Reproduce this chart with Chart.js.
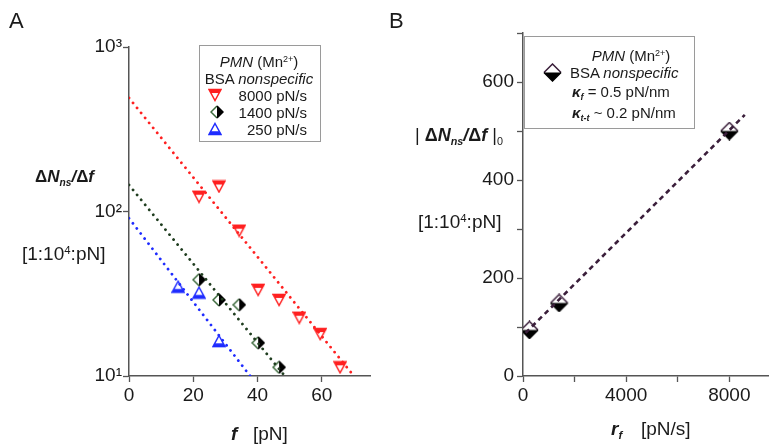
<!DOCTYPE html>
<html>
<head>
<meta charset="utf-8">
<script src="https://cdn.jsdelivr.net/npm/chart.js@4.4.1/dist/chart.umd.min.js"></script>
<style>
body { margin: 0; background: #fff; }
#wrap { position: relative; width: 776px; height: 446px; overflow: hidden; font-family: "Liberation Sans", Arial, sans-serif; color: #1a1a1a; }
#wrap canvas { position: absolute; top: 0; }
.t { position: absolute; white-space: nowrap; line-height: 1; }
.t sup, .t sub { font-size: 0.6em; line-height: 0; position: relative; vertical-align: baseline; }
.t sup { top: -0.55em; }
.t sub { top: 0.35em; }
.box { position: absolute; border: 1px solid #9a9a9a; }
</style>
</head>
<body>
<div id="wrap">
  <canvas id="chartA" width="388" height="446" style="left:0"></canvas>
  <canvas id="chartB" width="388" height="446" style="left:388px"></canvas>
</div>
<script>
// panel A: dN/df against force, one series per loading rate
const f8000 = [21.8, 28.0, 34.3, 40.2, 46.7, 53.0, 59.5, 65.7];
const n8000 = [123, 142, 76.5, 33.4, 29.0, 22.6, 18.0, 11.3];
const f1400 = [21.8, 28.0, 34.3, 40.2, 46.7];
const n1400 = [38.5, 29.0, 27.1, 15.9, 11.3];
const f250 = [15.3, 21.8, 28.0];
const n250 = [34.9, 32.1, 16.3];
// fitted lines (end points)
const fitF8000 = [0, 70], fitN8000 = [490, 10];
const fitF1400 = [0, 48.5], fitN1400 = [145, 10];
const fitF250 = [0, 37.7], fitN250 = [91, 10];
const fTicks = [0, 20, 40, 60];
const nTicks = [10, 100, 1000];
const nTickLabels = ['10\u00b9', '10\u00b2', '10\u00b3'];

// panel B: |dN/df|0 against loading rate
const rates = [250, 1400, 8000];
const slopes0 = [94, 149, 500];
const fitRate = [100, 8600], fitSlope = [88, 533];
const rTicks = [0, 2000, 4000, 6000, 8000];
const rTickLabels = ['0', '', '4000', '', '8000'];
const sTicks = [0, 100, 200, 300, 400, 500, 600, 700];
const sTickLabels = ['0', '', '200', '', '400', '', '600', ''];

const RED = '#ff2020', GREEN = '#1f3d1f', BLUE = '#1f2cff', PURPLE = '#3a1e3a';

function marker(kind, size) {
  const c = document.createElement('canvas');
  c.width = c.height = size;
  const g = c.getContext('2d');
  const s = size, h = s / 2;
  let pts;
  if (kind === 'down') pts = [[1, 1.5], [s - 1, 1.5], [h, s - 1.5]];
  else if (kind === 'up') pts = [[h, 1.5], [s - 1, s - 1.5], [1, s - 1.5]];
  else pts = [[h, 1], [s - 1, h], [h, s - 1], [1, h]];
  const path = () => { g.beginPath(); pts.forEach((p, i) => i ? g.lineTo(p[0], p[1]) : g.moveTo(p[0], p[1])); g.closePath(); };
  g.save(); path(); g.fillStyle = '#fff'; g.fill(); g.clip();
  g.lineWidth = 1.6;
  if (kind === 'down') { g.fillStyle = RED; g.fillRect(0, 0, s, s * 0.36); }
  if (kind === 'up') { g.fillStyle = BLUE; g.fillRect(0, s * 0.66, s, s); }
  if (kind === 'dvert') { g.fillStyle = '#000'; g.fillRect(h, 0, s, s); }
  if (kind === 'dhorz') { g.fillStyle = '#000'; g.fillRect(0, h, s, s); }
  g.restore();
  g.lineWidth = 1.5;
  if (kind === 'down') { path(); g.strokeStyle = RED; g.stroke(); }
  if (kind === 'up') { path(); g.strokeStyle = BLUE; g.stroke(); }
  if (kind === 'dvert') {
    g.strokeStyle = '#3c6a3c'; g.beginPath(); g.moveTo(h, 1); g.lineTo(1, h); g.lineTo(h, s - 1); g.stroke();
    g.strokeStyle = '#000'; g.beginPath(); g.moveTo(h, 1); g.lineTo(s - 1, h); g.lineTo(h, s - 1); g.stroke();
  }
  if (kind === 'dhorz') {
    g.strokeStyle = PURPLE; g.beginPath(); g.moveTo(1, h); g.lineTo(h, 1); g.lineTo(s - 1, h); g.stroke();
    g.strokeStyle = '#000'; g.beginPath(); g.moveTo(1, h); g.lineTo(h, s - 1); g.lineTo(s - 1, h); g.stroke();
  }
  return c;
}

const mRed = marker('down', 14), mGreen = marker('dvert', 14), mBlue = marker('up', 14), mB = marker('dhorz', 19);

function xy(xs, ys) { return xs.map((x, i) => ({ x: x, y: ys[i] })); }
function fit(xs, ys, color, dash, width, cap) {
  return { data: xy(xs, ys), showLine: true, pointRadius: 0, borderColor: color, borderWidth: width,
           borderDash: dash, borderCapStyle: cap, fill: false };
}
function pts(xs, ys, img) {
  return { data: xy(xs, ys), showLine: false, pointStyle: img, pointRadius: 7 };
}

const dots = [0.01, 6.4];

function axis(opts) {
  return Object.assign({
    grid: { drawOnChartArea: false, drawTicks: true, tickLength: 6, tickColor: '#555', tickWidth: 1.3 },
    border: { color: '#555', width: 1.5 },
  }, opts);
}
const tickFont = { family: '"Liberation Sans", Arial, sans-serif', size: 19 };

new Chart(document.getElementById('chartA'), {
  type: 'scatter',
  data: {
    datasets: [
      fit(fitF8000, fitN8000, RED, dots, 2.8, 'round'),
      fit(fitF1400, fitN1400, GREEN, dots, 2.8, 'round'),
      fit(fitF250, fitN250, BLUE, dots, 2.8, 'round'),
      pts(f8000, n8000, mRed),
      pts(f1400, n1400, mGreen),
      pts(f250, n250, mBlue),
    ]
  },
  options: {
    responsive: false, animation: false,
    layout: { padding: { left: 0, top: 47, right: 18, bottom: 0 } },
    plugins: { legend: { display: false }, tooltip: { enabled: false } },
    scales: {
      x: axis({
        type: 'linear', min: 0, max: 75,
        afterBuildTicks: s => { s.ticks = fTicks.map(v => ({ value: v })); },
        afterFit: s => { s.height = 70; },
        ticks: { font: tickFont, color: '#1a1a1a', padding: 2, maxRotation: 0 },
      }),
      y: axis({
        type: 'logarithmic', min: 10, max: 1000,
        afterBuildTicks: s => { s.ticks = nTicks.map(v => ({ value: v })); },
        afterFit: s => { s.width = 129; },
        ticks: { font: tickFont, color: '#1a1a1a', padding: 1, callback: (v, i) => nTickLabels[i] },
      }),
    }
  }
});

new Chart(document.getElementById('chartB'), {
  type: 'scatter',
  data: {
    datasets: [
      fit(fitRate, fitSlope, PURPLE, [5, 4], 2.6, 'butt'),
      pts(rates, slopes0, mB),
    ]
  },
  options: {
    responsive: false, animation: false,
    layout: { padding: { left: 0, top: 33, right: 1, bottom: 0 } },
    plugins: { legend: { display: false }, tooltip: { enabled: false } },
    scales: {
      x: axis({
        type: 'linear', min: 0, max: 9500,
        afterBuildTicks: s => { s.ticks = rTicks.map(v => ({ value: v })); },
        afterFit: s => { s.height = 70; },
        ticks: { font: tickFont, color: '#1a1a1a', padding: 2, maxRotation: 0, autoSkip: false, callback: (v, i) => rTickLabels[i] },
      }),
      y: axis({
        type: 'linear', min: 0, max: 700,
        afterBuildTicks: s => { s.ticks = sTicks.map(v => ({ value: v })); },
        afterFit: s => { s.width = 135; },
        ticks: { font: tickFont, color: '#1a1a1a', padding: 3, autoSkip: false, callback: (v, i) => sTickLabels[i] },
      }),
    }
  }
});

// text overlays
const wrap = document.getElementById('wrap');
function T(html, x, y, size, align) {
  const d = document.createElement('div');
  d.className = 't';
  d.innerHTML = html;
  d.style.fontSize = size + 'px';
  d.style.left = x + 'px';
  d.style.top = y + 'px';
  const tx = align === 'c' ? '-50%' : align === 'r' ? '-100%' : '0';
  d.style.transform = 'translate(' + tx + ',-50%)';
  wrap.appendChild(d);
  return d;
}
function box(x, y, w, h) {
  const d = document.createElement('div');
  d.className = 'box';
  Object.assign(d.style, { left: x + 'px', top: y + 'px', width: w + 'px', height: h + 'px' });
  wrap.appendChild(d);
}
function icon(img, x, y) {
  const c = document.createElement('canvas');
  c.width = img.width; c.height = img.height;
  c.getContext('2d').drawImage(img, 0, 0);
  Object.assign(c.style, { left: (x - img.width / 2) + 'px', top: (y - img.height / 2) + 'px' });
  wrap.appendChild(c);
}

T('A', 9, 21, 22, 'l');
T('B', 389, 21, 22, 'l');

const dN = '<b>\u0394<i>N</i><sub><i>ns</i></sub><i>/</i>\u0394<i>f</i></b>';
T(dN, 35, 176, 17, 'l');
T('[1:10<sup>4</sup>:pN]', 22, 253, 19, 'l');
T('<b><i>f</i></b>', 231, 433, 19, 'l');
T('[pN]', 253, 433, 19, 'l');

T('| ' + dN + ' |<sub>0</sub>', 415, 135, 18, 'l');
T('[1:10<sup>4</sup>:pN]', 418, 221, 19, 'l');
T('<b><i>r</i></b><sub><b><i>f</i></b></sub>', 611, 428, 19, 'l');
T('[pN/s]', 641, 428, 19, 'l');

// legend A
box(199, 45, 120, 95);
T('<i>PMN</i> (Mn<sup>2+</sup>)', 259, 61, 15, 'c');
T('BSA <i>nonspecific</i>', 259, 78, 15, 'c');
icon(mRed, 215, 95); T('8000 pN/s', 307, 95, 15, 'r');
icon(mGreen, 217, 112); T('1400 pN/s', 307, 112, 15, 'r');
icon(mBlue, 215, 129); T('250 pN/s', 307, 129, 15, 'r');

// legend B
box(524, 36, 169, 91);
T('<i>PMN</i> (Mn<sup>2+</sup>)', 631, 55, 15, 'c');
icon(mB, 552, 72); T('BSA <i>nonspecific</i>', 570, 72, 15, 'l');
T('<b><i>\u03ba</i></b><sub><b><i>f</i></b></sub> = 0.5 pN/nm', 572, 91, 15, 'l');
T('<b><i>\u03ba</i></b><sub><b><i>t-t</i></b></sub> ~ 0.2 pN/nm', 572, 112, 15, 'l');
</script>
</body>
</html>
